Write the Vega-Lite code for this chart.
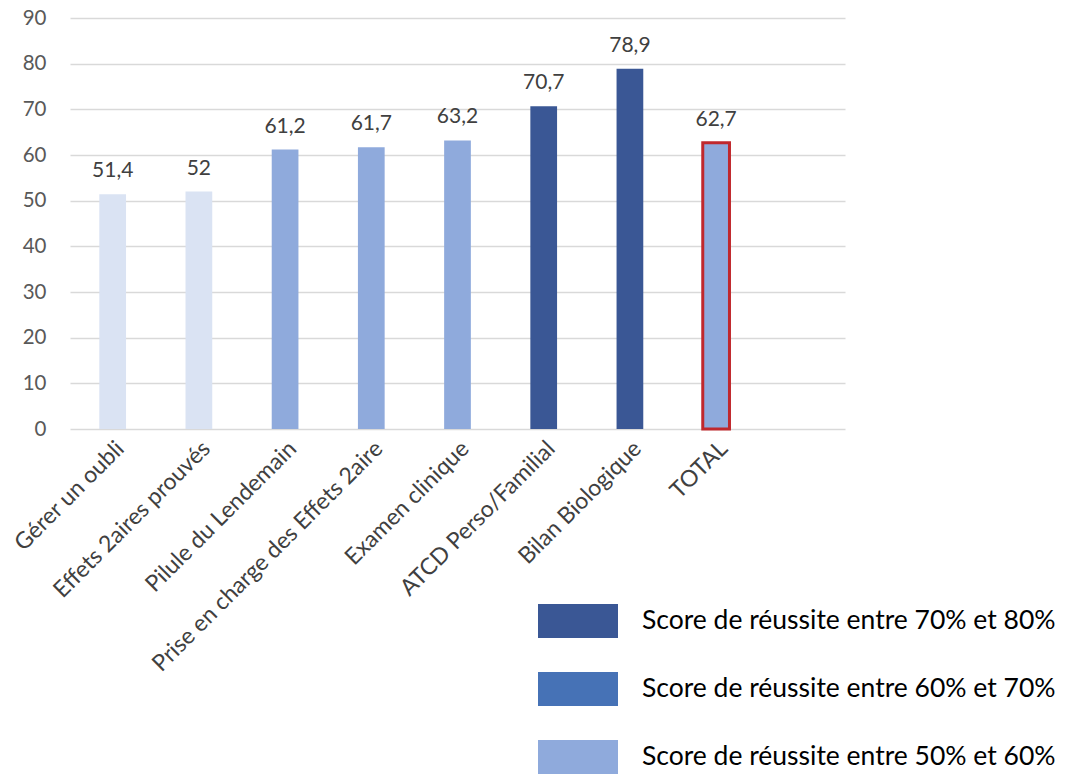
{
  "$schema": "https://vega.github.io/schema/vega-lite/v6.json",
  "autosize": {"type": "none"},
  "width": 775,
  "height": 411,
  "padding": {"left": 70, "top": 18, "right": 227, "bottom": 347},
  "config": {
    "locale": {"number": {"decimal": ",", "thousands": " ", "grouping": [3], "currency": ["", " €"]}},
    "view": {"stroke": null},
    "font": "Lato"
  },
  "data": {
    "values": [
      {"categorie": "Gérer un oubli", "score": 51.4, "groupe": "autre", "total": false},
      {"categorie": "Effets 2aires prouvés", "score": 52, "groupe": "autre", "total": false},
      {"categorie": "Pilule du Lendemain", "score": 61.2, "groupe": "Score de réussite entre 50% et 60%", "total": false},
      {"categorie": "Prise en charge des Effets 2aire", "score": 61.7, "groupe": "Score de réussite entre 50% et 60%", "total": false},
      {"categorie": "Examen clinique", "score": 63.2, "groupe": "Score de réussite entre 50% et 60%", "total": false},
      {"categorie": "ATCD Perso/Familial", "score": 70.7, "groupe": "Score de réussite entre 70% et 80%", "total": false},
      {"categorie": "Bilan Biologique", "score": 78.9, "groupe": "Score de réussite entre 70% et 80%", "total": false},
      {"categorie": "TOTAL", "score": 62.7, "groupe": "Score de réussite entre 50% et 60%", "total": true}
    ]
  },
  "encoding": {
    "x": {
      "field": "categorie",
      "type": "nominal",
      "sort": null,
      "scale": {
        "domain": ["Gérer un oubli", "Effets 2aires prouvés", "Pilule du Lendemain", "Prise en charge des Effets 2aire", "Examen clinique", "ATCD Perso/Familial", "Bilan Biologique", "TOTAL", " "],
        "paddingInner": 0.69,
        "paddingOuter": 0.34
      },
      "axis": {
        "title": null,
        "labelAngle": -45,
        "labelFontSize": 23,
        "labelColor": "#404040",
        "labelFont": "Lato",
        "ticks": false,
        "domain": false,
        "labelPadding": 8,
        "labelLimit": 400
      }
    },
    "y": {
      "field": "score",
      "type": "quantitative",
      "scale": {"domain": [0, 90], "nice": false},
      "axis": {
        "title": null,
        "values": [0, 10, 20, 30, 40, 50, 60, 70, 80, 90],
        "labelFontSize": 20.5,
        "labelColor": "#595959",
        "labelFont": "Lato",
        "labelPadding": 24,
        "ticks": false,
        "domain": false,
        "gridColor": "#D9D9D9",
        "gridWidth": 1.5
      }
    }
  },
  "layer": [
    {
      "mark": {"type": "bar"},
      "encoding": {
        "color": {
          "field": "groupe",
          "type": "nominal",
          "scale": {
            "domain": ["Score de réussite entre 70% et 80%", "Score de réussite entre 60% et 70%", "Score de réussite entre 50% et 60%", "autre"],
            "range": ["#3A5795", "#4672B6", "#8FAADC", "#DAE3F3"]
          },
          "legend": {
            "title": null,
            "values": ["Score de réussite entre 70% et 80%", "Score de réussite entre 60% et 70%", "Score de réussite entre 50% et 60%"],
            "orient": "none",
            "legendX": 468,
            "legendY": 586,
            "padding": 0,
            "symbolType": "M-1,-0.425H1V0.425H-1Z",
            "symbolSize": 6400,
            "symbolStrokeWidth": 0,
            "symbolOpacity": 1,
            "clipHeight": 34,
            "rowPadding": 34,
            "labelOffset": 24,
            "labelFontSize": 26.5,
            "labelFont": "Lato",
            "labelColor": "#000000",
            "labelLimit": 500
          }
        },
        "stroke": {
          "condition": {"test": "datum.total", "value": "#C0282D"},
          "value": null
        },
        "strokeWidth": {
          "condition": {"test": "datum.total", "value": 3},
          "value": 0
        }
      }
    },
    {
      "mark": {"type": "text", "baseline": "bottom", "dy": -13, "fontSize": 21, "color": "#404040", "font": "Lato"},
      "encoding": {
        "text": {"field": "score", "type": "quantitative", "format": ".1~f"}
      }
    }
  ]
}
